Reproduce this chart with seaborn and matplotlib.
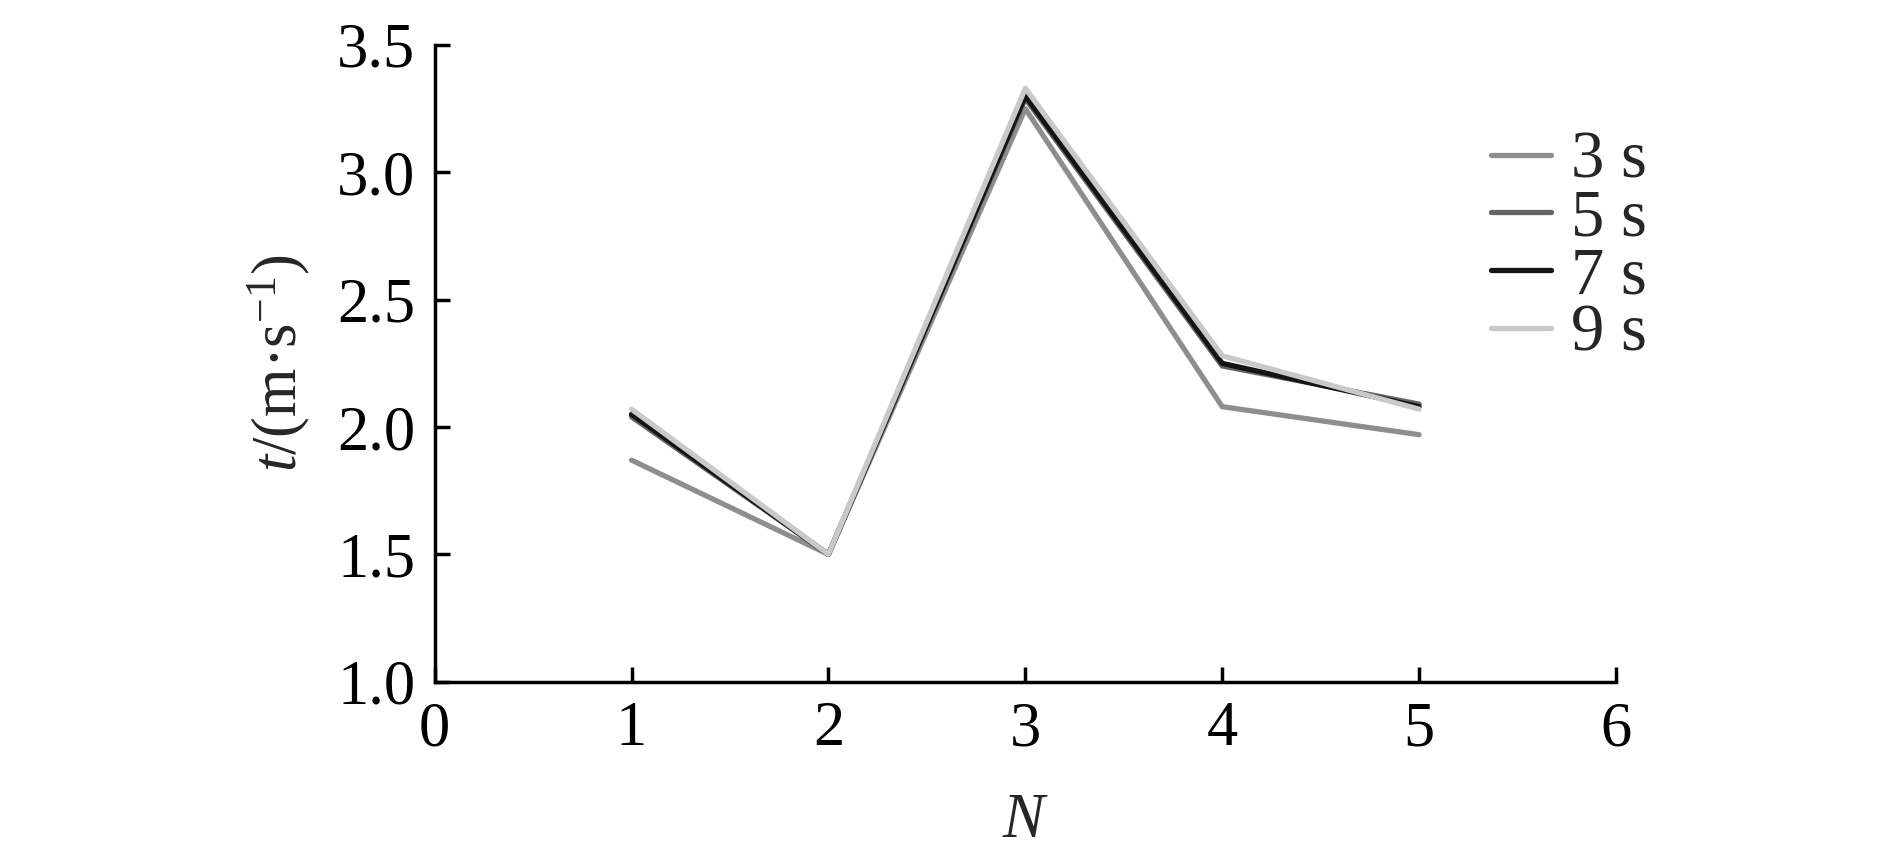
import matplotlib
matplotlib.use("Agg")
import matplotlib.pyplot as plt
import pandas as pd
import seaborn as sns

N = [1, 2, 3, 4, 5]
t_3s = [1.87, 1.50, 3.25, 2.08, 1.97]
t_5s = [2.04, 1.50, 3.29, 2.24, 2.09]
t_7s = [2.05, 1.50, 3.30, 2.25, 2.08]
t_9s = [2.07, 1.50, 3.33, 2.28, 2.07]
labels = ["3 s", "5 s", "7 s", "9 s"]

rows = []
for lab, vals in zip(labels, [t_3s, t_5s, t_7s, t_9s]):
    for n, v in zip(N, vals):
        rows.append({"N": n, "t": v, "time": lab})
df = pd.DataFrame(rows)

sns.set_style("ticks")
plt.rcParams["font.family"] = ["Liberation Serif", "DejaVu Serif"]
plt.rcParams["mathtext.fontset"] = "custom"
plt.rcParams["mathtext.rm"] = "Liberation Serif"
plt.rcParams["mathtext.it"] = "Liberation Serif:italic"

fig = plt.figure(figsize=(18.9, 8.49), dpi=100)
ax = fig.add_axes([0.230, 0.197, 0.625, 0.750])

palette = {"3 s": "#8e8e8e", "5 s": "#666666", "7 s": "#141414", "9 s": "#c9c9c9"}
sns.lineplot(data=df, x="N", y="t", hue="time", palette=palette,
             linewidth=3.8, ax=ax)

ax.set_xlim(0, 6)
ax.set_ylim(1.0, 3.5)
ax.set_xticks([0, 1, 2, 3, 4, 5, 6])
ax.set_yticks([1.0, 1.5, 2.0, 2.5, 3.0, 3.5])
ax.set_yticklabels(["1.0", "1.5", "2.0", "2.5", "3.0", "3.5"])
ax.tick_params(direction="in", length=11, width=2.5, labelsize=45, colors="black", pad=14)
for s in ["left", "bottom"]:
    ax.spines[s].set_linewidth(2.5)
    ax.spines[s].set_color("black")
sns.despine(ax=ax)

ax.set_xlabel("$N$", fontsize=45, labelpad=24)
ax.set_ylabel("$t$/(m·s$^{-1}$)", fontsize=45, labelpad=18)

ax.legend(frameon=False, fontsize=48, handlelength=0.9, handletextpad=0.3,
          labelspacing=-0.05, loc="upper left", bbox_to_anchor=(0.771, 0.885),
          bbox_transform=fig.transFigure, borderpad=0)

fig.savefig("out.png", dpi=100)
